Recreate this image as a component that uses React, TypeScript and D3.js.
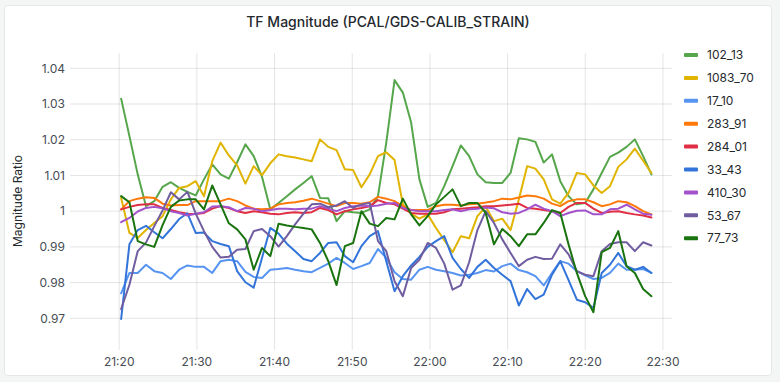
import React from "react";
import * as d3 from "d3";

const W = 780;
const H = 382;

const seriesNames = ["102_13", "1083_70", "17_10", "283_91", "284_01", "33_43", "410_30", "53_67", "77_73"];
const seriesColors = ["#56A64B", "#E0B400", "#5794F2", "#FF780A", "#E02F44", "#3274D9", "#A352CC", "#705DA0", "#19730E"];

const s102_13 = [1.0315, 1.021, 1.0103, 1.0014, 1.0028, 1.0068, 1.0081, 1.0065, 1.0054, 1.0044, 1.0089, 1.0131, 1.0103, 1.0091, 1.0137, 1.0187, 1.0154, 1.0096, 1.0005, 1.0023, 1.0042, 1.0061, 1.0079, 1.0098, 1.0037, 1.0036, 0.9972, 1.0, 0.9997, 0.9995, 1.0005, 1.0042, 1.0192, 1.0367, 1.0332, 1.0248, 1.0089, 1.0012, 1.0023, 1.007, 1.0126, 1.0184, 1.0154, 1.0103, 1.0081, 1.0079, 1.0079, 1.0107, 1.0204, 1.0201, 1.0194, 1.0136, 1.0159, 1.0084, 1.0042, 1.0019, 1.0023, 1.0061, 1.0107, 1.0152, 1.0164, 1.018, 1.0201, 1.0154, 1.0103];
const s1083_70 = [1.0037, 0.9939, 0.9925, 0.9947, 0.9967, 0.9986, 1.0033, 1.0065, 1.007, 1.0084, 1.0042, 1.014, 1.0192, 1.0156, 1.0128, 1.0077, 1.0126, 1.0101, 1.0134, 1.0159, 1.0154, 1.015, 1.0145, 1.014, 1.0201, 1.018, 1.0171, 1.0117, 1.0115, 1.0067, 1.0103, 1.0154, 1.0165, 1.0143, 1.0019, 0.9993, 0.9979, 0.9991, 0.9953, 0.9919, 0.9885, 0.993, 0.9924, 0.9986, 1.0012, 0.9972, 0.9979, 0.9947, 1.0033, 1.0126, 1.0119, 1.0089, 1.0033, 1.0021, 1.0051, 1.0107, 1.0103, 1.0072, 1.0051, 1.007, 1.0124, 1.0145, 1.0175, 1.0141, 1.0107];
const s17_10 = [0.977, 0.9827, 0.9827, 0.985, 0.9832, 0.9827, 0.981, 0.9836, 0.9848, 0.9844, 0.9844, 0.9827, 0.986, 0.9864, 0.986, 0.983, 0.9816, 0.9813, 0.9836, 0.9838, 0.9841, 0.9836, 0.9832, 0.9829, 0.9841, 0.9853, 0.9869, 0.9855, 0.9838, 0.9846, 0.9855, 0.9894, 0.9869, 0.9829, 0.981, 0.9808, 0.9836, 0.9844, 0.9836, 0.9832, 0.9827, 0.982, 0.9822, 0.9827, 0.9835, 0.9831, 0.9846, 0.9853, 0.9835, 0.9829, 0.9818, 0.9792, 0.9827, 0.986, 0.9853, 0.9832, 0.982, 0.981, 0.9813, 0.9827, 0.9853, 0.9836, 0.9836, 0.9838, 0.9827];
const s283_91 = [1.0005, 1.0028, 1.0035, 1.0039, 1.0037, 1.0021, 1.0016, 1.0017, 1.0017, 1.0028, 1.0028, 1.0028, 1.0028, 1.0035, 1.0028, 1.0016, 1.0007, 1.0005, 1.0007, 1.0019, 1.0023, 1.0025, 1.0029, 1.0035, 1.0028, 1.0021, 1.0014, 1.0023, 1.0023, 1.0021, 1.0025, 1.004, 1.0035, 1.0028, 1.0014, 1.0003, 1.0003, 1.0003, 1.0014, 1.0018, 1.0018, 1.0016, 1.0019, 1.0021, 1.0024, 1.0028, 1.0035, 1.0033, 1.0038, 1.0044, 1.0042, 1.0035, 1.0021, 1.0014, 1.0028, 1.0033, 1.0033, 1.0025, 1.0014, 1.0019, 1.0028, 1.0025, 1.0014, 1.0, 0.9991];
const s284_01 = [1.0005, 1.0012, 1.0017, 1.0019, 1.0019, 1.0009, 1.0003, 0.9997, 0.9993, 0.9992, 0.9995, 1.0007, 1.0014, 1.0009, 1.0, 0.9995, 1.0, 0.9997, 0.9993, 0.9991, 0.9995, 0.9997, 0.9995, 0.9997, 1.0009, 1.0003, 0.9991, 1.0, 1.0005, 1.0009, 1.0014, 1.0031, 1.0023, 1.0019, 1.0007, 0.9995, 0.9993, 0.9993, 0.9993, 0.9997, 1.0005, 1.0007, 1.0009, 1.0011, 1.0014, 1.0014, 1.0016, 1.0018, 1.0021, 1.0009, 1.0007, 1.0003, 1.0, 0.9995, 1.0012, 1.0023, 1.0023, 1.0007, 0.9995, 0.9998, 1.0, 0.9995, 0.9991, 0.9988, 0.9982];
const s33_43 = [0.9698, 0.9907, 0.9947, 0.9959, 0.9941, 0.9924, 0.995, 0.9978, 0.9994, 0.9939, 0.994, 0.9916, 0.9908, 0.9902, 0.9832, 0.9801, 0.9786, 0.9869, 0.9953, 0.9937, 0.9909, 0.9888, 0.9866, 0.986, 0.9883, 0.9911, 0.9913, 0.9874, 0.9857, 0.9902, 0.993, 0.9944, 0.986, 0.9776, 0.9818, 0.9848, 0.9872, 0.99, 0.9916, 0.993, 0.9869, 0.9838, 0.9813, 0.9844, 0.9864, 0.9841, 0.9822, 0.9804, 0.9736, 0.9782, 0.9754, 0.9766, 0.9822, 0.986, 0.9807, 0.9752, 0.9745, 0.9729, 0.9827, 0.985, 0.9883, 0.9846, 0.9836, 0.9844, 0.9827];
const s410_30 = [0.9969, 0.9981, 0.9999, 1.0009, 1.0012, 1.0008, 1.0, 0.9995, 0.9988, 0.9993, 0.9997, 1.0013, 1.0014, 1.0011, 1.0, 1.0009, 1.0007, 1.0, 1.0003, 1.0007, 1.0007, 1.0005, 1.0007, 1.0007, 1.0014, 1.0007, 1.0, 1.0009, 1.0014, 1.0016, 1.0014, 1.0016, 1.0021, 1.0023, 1.0009, 1.0003, 1.0, 1.0, 1.0, 1.0003, 1.0005, 1.0, 1.0005, 1.0007, 1.001, 1.0008, 0.9997, 0.9993, 0.9995, 1.0005, 1.0018, 1.0007, 1.0, 0.9986, 0.9995, 1.0001, 1.0002, 0.9991, 0.9991, 1.0005, 1.0007, 1.0018, 1.0005, 0.9993, 0.999];
const s53_67 = [0.9726, 0.9794, 0.9888, 0.9912, 0.9958, 1.0002, 1.0053, 1.0033, 1.0054, 0.9993, 0.9944, 0.99, 0.987, 0.9872, 0.9892, 0.9894, 0.9944, 0.995, 0.993, 0.9901, 0.993, 0.9963, 0.9993, 1.0019, 1.0021, 1.0011, 1.0016, 1.0028, 1.0009, 1.0019, 1.0023, 0.9916, 0.9888, 0.9804, 0.9762, 0.9841, 0.9864, 0.9911, 0.9897, 0.9853, 0.978, 0.9792, 0.9857, 0.9947, 1.0, 0.9967, 0.9921, 0.9883, 0.9846, 0.9864, 0.9872, 0.9866, 0.9867, 0.9907, 0.9879, 0.9832, 0.9822, 0.9818, 0.9888, 0.9908, 0.9913, 0.9913, 0.9888, 0.9913, 0.9904];
const s77_73 = [1.0042, 1.0025, 0.9916, 0.9907, 0.99, 0.9961, 1.0012, 1.003, 1.0033, 1.0033, 1.0005, 1.0072, 1.0019, 0.9966, 0.9949, 0.9921, 0.9836, 0.9897, 0.9874, 0.9965, 0.996, 0.9956, 0.9953, 0.9949, 0.9911, 0.986, 0.9793, 0.9902, 0.9911, 1.0, 0.9965, 0.9958, 0.9981, 0.9977, 1.0035, 0.9991, 0.996, 0.9986, 1.0019, 1.004, 1.0061, 1.0014, 1.0023, 1.0023, 0.9995, 0.9907, 0.995, 0.993, 0.9902, 0.9935, 0.9935, 0.9967, 1.0003, 0.9995, 0.9907, 0.9827, 0.9762, 0.9717, 0.9885, 0.9897, 0.9944, 0.9846, 0.9827, 0.9782, 0.9762];

const seriesValues = [s102_13, s1083_70, s17_10, s283_91, s284_01, s33_43, s410_30, s53_67, s77_73];

const yTickValues = [0.97, 0.98, 0.99, 1.0, 1.01, 1.02, 1.03, 1.04];

// time range of the panel and sampling
const rangeStart = new Date(2024, 0, 1, 21, 13, 40);
const rangeEnd = new Date(2024, 0, 1, 22, 31, 10);
const firstSample = new Date(2024, 0, 1, 21, 20, 15);
const sampleSeconds = 64;

const FONT = "Inter, 'Noto Sans', sans-serif";

export default function App() {
  const left = 70, right = 672, top = 53, bottom = 350;
  const x = d3.scaleTime().domain([rangeStart, rangeEnd]).range([left, right]);
  const y = d3.scaleLinear().domain([0.97, 1.04]).range([318.3, 68.3]);
  const xTicks = x.ticks(d3.timeMinute.every(10) as any).filter((t) => x(t) > left + 10 && x(t) < right - 5);
  const fmt = d3.timeFormat("%H:%M");
  const yFmt = (v: number) => String(+v.toFixed(2));

  const line = d3
    .line<number>()
    .x((_, i) => x(new Date(firstSample.getTime() + i * sampleSeconds * 1000)))
    .y((d) => y(d));

  return (
    <div style={{ position: "absolute", left: 0, top: 0, width: W, height: H, background: "#F4F5F5" }}>
      <svg width={W} height={H} style={{ display: "block", fontFamily: FONT }}>
        <rect x={4.5} y={5.5} width={767} height={370} rx={3} fill="#FFFFFF" stroke="#E4E6E8" />
        <text x={388} y={27} textAnchor="middle" fontSize={14} fontWeight={500} fill="#24292E">
          TF Magnitude (PCAL/GDS-CALIB_STRAIN)
        </text>
        {/* grid */}
        {yTickValues.map((v) => (
          <line key={"gy" + v} x1={left} x2={right} y1={y(v)} y2={y(v)} stroke="#24292E" strokeOpacity={0.12} />
        ))}
        {xTicks.map((t) => (
          <line key={"gx" + t.getTime()} x1={x(t)} x2={x(t)} y1={top} y2={bottom} stroke="#24292E" strokeOpacity={0.12} />
        ))}
        {/* y labels */}
        {yTickValues.map((v) => (
          <text key={"ly" + v} x={65} y={y(v)} dy="0.35em" textAnchor="end" fontSize={12} fill="#464C54">
            {yFmt(v)}
          </text>
        ))}
        {xTicks.map((t) => (
          <text key={"lx" + t.getTime()} x={x(t)} y={362} dy="0.35em" textAnchor="middle" fontSize={12} fill="#464C54">
            {fmt(t)}
          </text>
        ))}
        <text transform="translate(18,201) rotate(-90)" textAnchor="middle" dy="0.35em" fontSize={12} fill="#24292E">
          Magnitude Ratio
        </text>
        {/* series */}
        {seriesValues.map((vals, k) => (
          <path
            key={seriesNames[k]}
            d={line(vals) || ""}
            fill="none"
            stroke={seriesColors[k]}
            strokeWidth={2}
            strokeLinejoin="round"
            strokeLinecap="round"
          />
        ))}
        {/* legend */}
        {seriesNames.map((n, k) => (
          <g key={"lg" + n} transform={`translate(684, ${55 + k * 22.9})`}>
            <rect x={0} y={-2} width={14} height={4} rx={1} fill={seriesColors[k]} />
            <text x={23} y={0} dy="0.35em" fontSize={12} fill="#24292E">
              {n}
            </text>
          </g>
        ))}
      </svg>
    </div>
  );
}
